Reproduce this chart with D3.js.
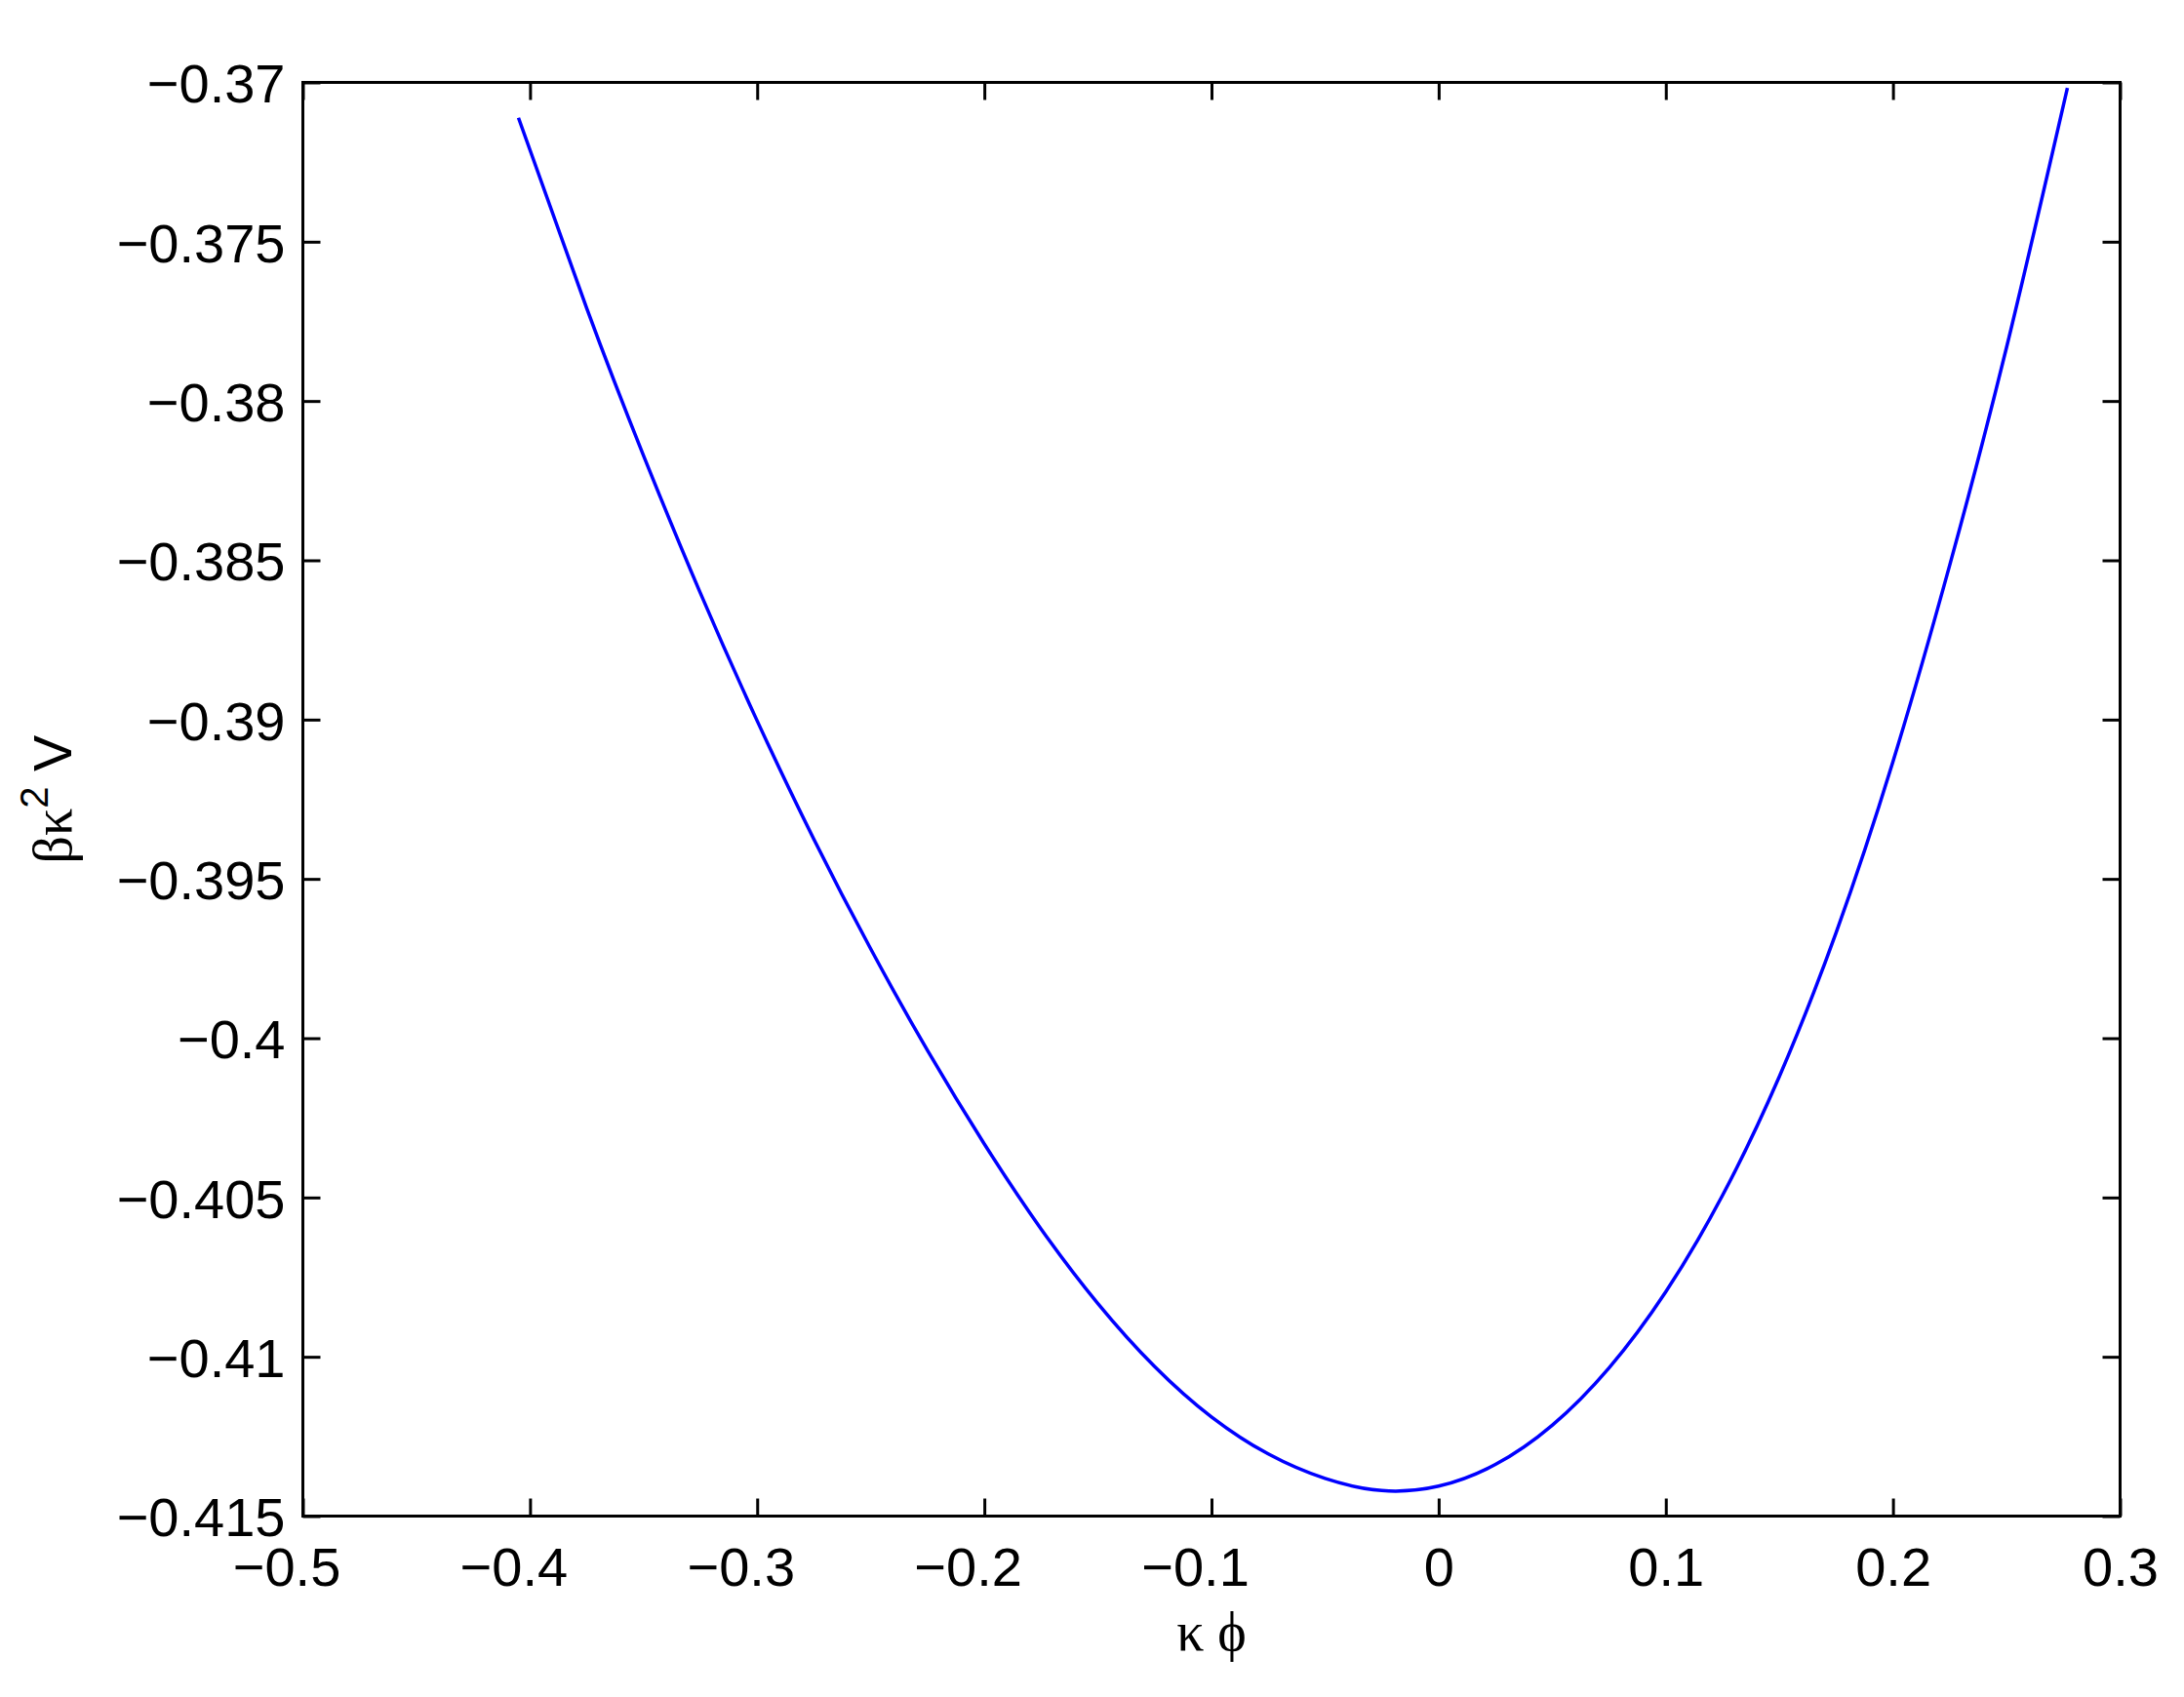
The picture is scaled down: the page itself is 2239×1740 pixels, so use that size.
<!DOCTYPE html>
<html>
<head>
<meta charset="utf-8">
<script src="https://cdn.jsdelivr.net/npm/d3@7"></script>
<style>
  body { margin: 0; background: #fff; }
  text { font-family: "Liberation Sans", Arial, Helvetica, sans-serif; }
</style>
</head>
<body>
<svg id="chart" width="2239" height="1740"></svg>
<script>
// curve: kappa*phi vs beta*kappa^2*V
var phi = [-0.4051, -0.375, -0.35, -0.325, -0.30, -0.275, -0.25, -0.225, -0.20, -0.175,
  -0.15, -0.125, -0.10, -0.075, -0.05, -0.025, 0, 0.025, 0.05, 0.075, 0.10, 0.125,
  0.15, 0.175, 0.20, 0.225, 0.25, 0.2768];
var potential = [-0.37111, -0.37710, -0.38172, -0.38603, -0.39004, -0.39376, -0.39720, -0.40039,
  -0.40332, -0.40599, -0.40833, -0.41031, -0.41189, -0.41305, -0.41382, -0.41420, -0.41406,
  -0.41338, -0.41215, -0.41035, -0.40796, -0.40493, -0.40120, -0.39668, -0.39132, -0.38515,
  -0.37832, -0.37017];

var xTicks = [-0.5, -0.4, -0.3, -0.2, -0.1, 0, 0.1, 0.2, 0.3];
var xTickLabels = ["\u22120.5", "\u22120.4", "\u22120.3", "\u22120.2", "\u22120.1", "0", "0.1", "0.2", "0.3"];
var yTicks = [-0.415, -0.41, -0.405, -0.4, -0.395, -0.39, -0.385, -0.38, -0.375, -0.37];
var yTickLabels = ["\u22120.415", "\u22120.41", "\u22120.405", "\u22120.4", "\u22120.395", "\u22120.39",
  "\u22120.385", "\u22120.38", "\u22120.375", "\u22120.37"];

var plotLeft = 310.5, plotRight = 2173.5, plotTop = 84.5, plotBottom = 1554.5,
  tickLen = 18,
  fontSize = 56
  ;

var svg = d3.select("#chart");
svg.append("rect").attr("width", 2239).attr("height", 1740).attr("fill", "#fff");

var x = d3.scaleLinear().domain([-0.5, 0.3]).range([plotLeft, plotRight]);
var y = d3.scaleLinear().domain([-0.415, -0.37]).range([plotBottom, plotTop]);

// axes: bottom/left with labels, top/right ticks only (all ticks pointing in)
var xAxis = d3.axisBottom(x).tickValues(xTicks).tickSizeInner(-tickLen).tickSizeOuter(0)
  .tickPadding(0).tickFormat(function(d, i) { return xTickLabels[i]; });
var gx = svg.append("g").attr("transform", "translate(0," + plotBottom + ")").call(xAxis);
gx.selectAll("text")
  .attr("y", 71)
  .attr("dy", null)
  .attr("dx", function(d) { return d < 0 ? -17 : 0; })
  .style("font-size", fontSize + "px")
  .style("font-family", "'Liberation Sans', Arial, sans-serif")
  .attr("fill", "#000");

var yAxis = d3.axisLeft(y).tickValues(yTicks).tickSizeInner(-tickLen).tickSizeOuter(0)
  .tickPadding(18).tickFormat(function(d, i) { return yTickLabels[i]; });
var gy = svg.append("g").attr("transform", "translate(" + plotLeft + ",0)").call(yAxis);
gy.selectAll("text")
  .attr("dy", "0.36em")
  .style("font-size", fontSize + "px")
  .style("font-family", "'Liberation Sans', Arial, sans-serif")
  .attr("fill", "#000");

svg.append("g").attr("transform", "translate(0," + plotTop + ")")
  .call(d3.axisTop(x).tickValues(xTicks).tickSizeInner(-tickLen).tickSizeOuter(0).tickFormat(""));
svg.append("g").attr("transform", "translate(" + plotRight + ",0)")
  .call(d3.axisRight(y).tickValues(yTicks).tickSizeInner(-tickLen).tickSizeOuter(0).tickFormat(""));

svg.selectAll(".domain").remove();
svg.selectAll(".tick line").attr("stroke", "#000").attr("stroke-width", 3);

// box
svg.append("rect")
  .attr("x", plotLeft).attr("y", plotTop)
  .attr("width", plotRight - plotLeft).attr("height", plotBottom - plotTop)
  .attr("fill", "none").attr("stroke", "#000").attr("stroke-width", 3);

// curve
var line = d3.line()
  .x(function(d, i) { return x(phi[i]); })
  .y(function(d) { return y(d); })
  .curve(d3.curveNatural);

svg.append("path")
  .datum(potential)
  .attr("d", line)
  .attr("fill", "none")
  .attr("stroke", "#0000ff")
  .attr("stroke-width", 3.5);

// x label
svg.append("text")
  .attr("x", (plotLeft + plotRight) / 2)
  .attr("y", 1692)
  .attr("text-anchor", "middle")
  .style("font-size", fontSize + "px")
  .style("font-family", "'Liberation Serif', 'Times New Roman', serif")
  .text("\u03ba \u03d5");

// y label
var yl = svg.append("text")
  .attr("transform", "translate(73," + ((plotTop + plotBottom) / 2) + ") rotate(-90)")
  .attr("text-anchor", "middle")
  .style("font-size", fontSize + "px");
yl.append("tspan").style("font-family", "'Liberation Serif', 'Times New Roman', serif").text("\u03b2\u03ba");
yl.append("tspan").attr("dy", -24).style("font-size", "40px").text("2");
yl.append("tspan").attr("dy", 24).text(" V");
</script>
</body>
</html>
